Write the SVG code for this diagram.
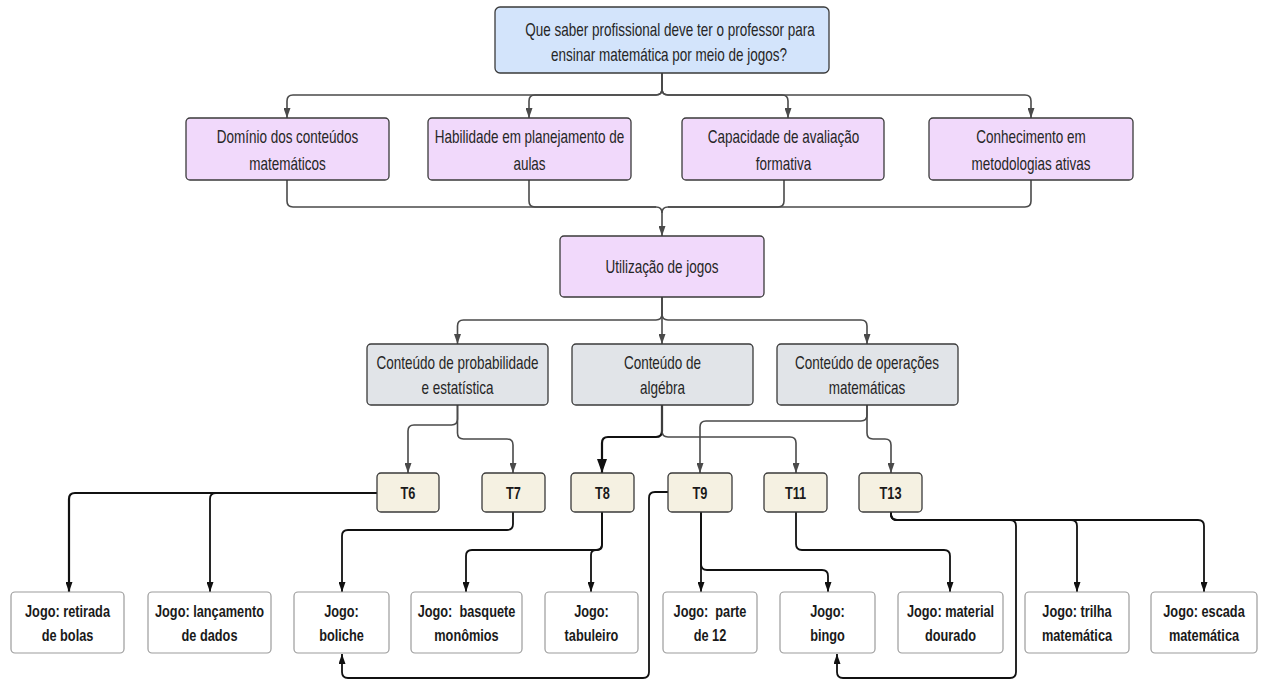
<svg xmlns="http://www.w3.org/2000/svg" width="1261" height="680" viewBox="0 0 1261 680">
<style>
.bx{stroke:#3a3a3a;stroke-width:1.3}
.q{fill:#d3e4fb}
.p{fill:#f1d9fb}
.g{fill:#e1e4e8}
.tb{fill:#f5f1e2}
.w{fill:#fff;stroke:#9c9c9c;stroke-width:1.2}
text{font-family:"Liberation Sans",Arial,sans-serif;text-anchor:middle;fill:#262626}
.n{font-size:18px}
.b{font-size:17px;font-weight:bold;fill:#1a1a1a}
.c{fill:none;stroke:#4a4a4a;stroke-width:1.6}
.k{fill:none;stroke:#111;stroke-width:1.8}
.kk{fill:none;stroke:#111;stroke-width:2.2}
</style>
<defs>
<marker id="ag" viewBox="0 0 10 10" refX="10" refY="5" markerWidth="10" markerHeight="7" orient="auto" markerUnits="userSpaceOnUse" preserveAspectRatio="none"><path d="M0,0 L10,5 L0,10 z" fill="#4a4a4a"/></marker>
<marker id="ak" viewBox="0 0 10 10" refX="10" refY="5" markerWidth="10" markerHeight="7" orient="auto" markerUnits="userSpaceOnUse" preserveAspectRatio="none"><path d="M0,0 L10,5 L0,10 z" fill="#111"/></marker>
<marker id="akb" viewBox="0 0 10 10" refX="10" refY="5" markerWidth="14" markerHeight="10" orient="auto" markerUnits="userSpaceOnUse" preserveAspectRatio="none"><path d="M0,0 L10,5 L0,10 z" fill="#111"/></marker>
</defs>

<g id="connectors">
<path class="c" marker-end="url(#ag)" d="M662,73 V89 Q662,95 656,95 H293 Q287,95 287,101 V118"/>
<path class="c" marker-end="url(#ag)" d="M662,73 V89 Q662,95 656,95 H535 Q529,95 529,101 V118"/>
<path class="c" marker-end="url(#ag)" d="M662,73 V89 Q662,95 668,95 H782 Q788,95 788,101 V118"/>
<path class="c" marker-end="url(#ag)" d="M662,73 V89 Q662,95 668,95 H1025 Q1031,95 1031,101 V118"/>
<path class="c" d="M287,180 V201 Q287,207 293,207 H656 Q662,207 662,213"/>
<path class="c" d="M529,180 V201 Q529,207 535,207 H656"/>
<path class="c" d="M784,180 V201 Q784,207 778,207 H668 Q662,207 662,213"/>
<path class="c" d="M1031,180 V201 Q1031,207 1025,207 H668"/>
<path class="c" marker-end="url(#ag)" d="M662,213 V236"/>
<path class="c" marker-end="url(#ag)" d="M662,297 V314 Q662,320 656,320 H463.5 Q457.5,320 457.5,326 V344"/>
<path class="c" marker-end="url(#ag)" d="M662,297 V344"/>
<path class="c" marker-end="url(#ag)" d="M662,297 V314 Q662,320 668,320 H861 Q867,320 867,326 V344"/>
<path class="c" marker-end="url(#ag)" d="M457.5,405 V419 Q457.5,425 451.5,425 H414 Q408,425 408,431 V473"/>
<path class="c" marker-end="url(#ag)" d="M457.5,405 V433 Q457.5,439 463.5,439 H507 Q513,439 513,445 V473"/>
<path class="kk" marker-end="url(#akb)" d="M662,405 V431 Q662,437 656,437 H608 Q602,437 602,443 V473"/>
<path class="c" marker-end="url(#ag)" d="M662,405 V431 Q662,437 668,437 H790 Q796,437 796,443 V473"/>
<path class="c" marker-end="url(#ag)" d="M867,405 V415 Q867,421 861,421 H706 Q700,421 700,427 V473"/>
<path class="c" marker-end="url(#ag)" d="M867,405 V433 Q867,439 873,439 H885 Q891,439 891,445 V473"/>
<path class="kk" marker-end="url(#ak)" d="M377,493 H75 Q69,493 69,499 V592"/>
<path class="k" marker-end="url(#ak)" d="M377,493 H216 Q210,493 210,499 V592"/>
<path class="k" marker-end="url(#ak)" d="M513,512 V524 Q513,530 507,530 H348 Q342,530 342,536 V592"/>
<path class="k" marker-end="url(#ak)" d="M602,512 V544 Q602,550 596,550 H472 Q466,550 466,556 V592"/>
<path class="k" marker-end="url(#ak)" d="M602,512 V545 Q602,550 597,550 H596 Q591,550 591,555 V592"/>
<path class="k" marker-end="url(#ak)" d="M701,512 V592"/>
<path class="k" marker-end="url(#ak)" d="M701,512 V564 Q701,570 707,570 H822 Q828,570 828,576 V592"/>
<path class="k" marker-end="url(#ak)" d="M668,492 H655 Q649,492 649,498 V672 Q649,678 643,678 H348 Q342,678 342,672 V654"/>
<path class="k" marker-end="url(#ak)" d="M796,512 V544 Q796,550 802,550 H944 Q950,550 950,556 V592"/>
<path class="k" marker-end="url(#ak)" d="M891,512 V514 Q891,520 897,520 H1010 Q1016,520 1016,526 V672 Q1016,678 1010,678 H843 Q837,678 837,672 V654"/>
<path class="k" marker-end="url(#ak)" d="M891,512 V514 Q891,520 897,520 H1071 Q1077,520 1077,526 V592"/>
<path class="k" marker-end="url(#ak)" d="M891,512 V514 Q891,520 897,520 H1198 Q1204,520 1204,526 V592"/>
</g>

<g id="n-top"><rect class="bx q" x="495" y="7" width="334" height="66" rx="5"/>
<text class="n" transform="translate(670 0) scale(.75 1)" y="36">Que saber profissional deve ter o professor para</text>
<text class="n" transform="translate(669 0) scale(.75 1)" y="61.5">ensinar matemática por meio de jogos?</text></g>

<g id="n-dominio"><rect class="bx p" x="186" y="118" width="203" height="62" rx="4"/>
<text class="n" transform="translate(287.5 0) scale(.75 1)" y="143.5">Domínio dos conteúdos</text>
<text class="n" transform="translate(287.5 0) scale(.75 1)" y="170.5">matemáticos</text></g>

<g id="n-habilidade"><rect class="bx p" x="428" y="118" width="203" height="62" rx="4"/>
<text class="n" transform="translate(529.5 0) scale(.75 1)" y="143.5">Habilidade em planejamento de</text>
<text class="n" transform="translate(529.5 0) scale(.75 1)" y="170.5">aulas</text></g>

<g id="n-capacidade"><rect class="bx p" x="682" y="118" width="202" height="62" rx="4"/>
<text class="n" transform="translate(783.5 0) scale(.75 1)" y="143.5">Capacidade de avaliação</text>
<text class="n" transform="translate(783.5 0) scale(.75 1)" y="170.5">formativa</text></g>

<g id="n-conhecimento"><rect class="bx p" x="929" y="118" width="204" height="62" rx="4"/>
<text class="n" transform="translate(1031 0) scale(.75 1)" y="143.5">Conhecimento em</text>
<text class="n" transform="translate(1031 0) scale(.75 1)" y="170.5">metodologias ativas</text></g>

<g id="n-utilizacao"><rect class="bx p" x="560" y="236" width="204" height="61" rx="4"/>
<text class="n" transform="translate(662 0) scale(.75 1)" y="273">Utilização de jogos</text></g>

<g id="n-prob"><rect class="bx g" x="367" y="344" width="181" height="61" rx="4"/>
<text class="n" transform="translate(457.5 0) scale(.75 1)" y="369">Conteúdo de probabilidade</text>
<text class="n" transform="translate(457.5 0) scale(.75 1)" y="394">e estatística</text></g>

<g id="n-algebra"><rect class="bx g" x="572" y="344" width="181" height="61" rx="4"/>
<text class="n" transform="translate(662.5 0) scale(.75 1)" y="369">Conteúdo de</text>
<text class="n" transform="translate(662.5 0) scale(.75 1)" y="394">algébra</text></g>

<g id="n-operacoes"><rect class="bx g" x="777" y="344" width="181" height="61" rx="4"/>
<text class="n" transform="translate(867 0) scale(.75 1)" y="369">Conteúdo de operações</text>
<text class="n" transform="translate(867 0) scale(.75 1)" y="394">matemáticas</text></g>

<g id="n-t6"><rect class="bx tb" x="377" y="473" width="62" height="39" rx="4"/><text class="b" transform="translate(408 0) scale(.75 1)" y="499">T6</text></g>
<g id="n-t7"><rect class="bx tb" x="482" y="473" width="63" height="39" rx="4"/><text class="b" transform="translate(513.5 0) scale(.75 1)" y="499">T7</text></g>
<g id="n-t8"><rect class="bx tb" x="571" y="473" width="63" height="39" rx="4"/><text class="b" transform="translate(602.5 0) scale(.75 1)" y="499">T8</text></g>
<g id="n-t9"><rect class="bx tb" x="668" y="473" width="64" height="39" rx="4"/><text class="b" transform="translate(700 0) scale(.75 1)" y="499">T9</text></g>
<g id="n-t11"><rect class="bx tb" x="764" y="473" width="63" height="39" rx="4"/><text class="b" transform="translate(795.5 0) scale(.75 1)" y="499">T11</text></g>
<g id="n-t13"><rect class="bx tb" x="859" y="473" width="63" height="39" rx="4"/><text class="b" transform="translate(890.5 0) scale(.75 1)" y="499">T13</text></g>

<g id="j-retirada"><rect class="w" x="11" y="592" width="113" height="61" rx="4"/>
<text class="b" transform="translate(67.5 0) scale(.75 1)" y="617.5">Jogo: retirada</text>
<text class="b" transform="translate(67.5 0) scale(.75 1)" y="641.5">de bolas</text></g>
<g id="j-lancamento"><rect class="w" x="148" y="592" width="123" height="61" rx="4"/>
<text class="b" transform="translate(209.5 0) scale(.75 1)" y="617.5">Jogo: lançamento</text>
<text class="b" transform="translate(209.5 0) scale(.75 1)" y="641.5">de dados</text></g>
<g id="j-boliche"><rect class="w" x="294" y="592" width="95" height="61" rx="4"/>
<text class="b" transform="translate(341.5 0) scale(.75 1)" y="617.5">Jogo:</text>
<text class="b" transform="translate(341.5 0) scale(.75 1)" y="641.5">boliche</text></g>
<g id="j-basquete"><rect class="w" x="411" y="592" width="111" height="61" rx="4"/>
<text class="b" transform="translate(466.5 0) scale(.75 1)" y="617.5">Jogo:&#160; basquete</text>
<text class="b" transform="translate(466.5 0) scale(.75 1)" y="641.5">monômios</text></g>
<g id="j-tabuleiro"><rect class="w" x="545" y="592" width="93" height="61" rx="4"/>
<text class="b" transform="translate(591.5 0) scale(.75 1)" y="617.5">Jogo:</text>
<text class="b" transform="translate(591.5 0) scale(.75 1)" y="641.5">tabuleiro</text></g>
<g id="j-parte"><rect class="w" x="663" y="592" width="94" height="61" rx="4"/>
<text class="b" transform="translate(710 0) scale(.75 1)" y="617.5">Jogo:&#160; parte</text>
<text class="b" transform="translate(710 0) scale(.75 1)" y="641.5">de 12</text></g>
<g id="j-bingo"><rect class="w" x="780" y="592" width="95" height="61" rx="4"/>
<text class="b" transform="translate(827.5 0) scale(.75 1)" y="617.5">Jogo:</text>
<text class="b" transform="translate(827.5 0) scale(.75 1)" y="641.5">bingo</text></g>
<g id="j-material"><rect class="w" x="898" y="592" width="105" height="61" rx="4"/>
<text class="b" transform="translate(950.5 0) scale(.75 1)" y="617.5">Jogo: material</text>
<text class="b" transform="translate(950.5 0) scale(.75 1)" y="641.5">dourado</text></g>
<g id="j-trilha"><rect class="w" x="1025" y="592" width="104" height="61" rx="4"/>
<text class="b" transform="translate(1077 0) scale(.75 1)" y="617.5">Jogo: trilha</text>
<text class="b" transform="translate(1077 0) scale(.75 1)" y="641.5">matemática</text></g>
<g id="j-escada"><rect class="w" x="1151" y="592" width="106" height="61" rx="4"/>
<text class="b" transform="translate(1204 0) scale(.75 1)" y="617.5">Jogo: escada</text>
<text class="b" transform="translate(1204 0) scale(.75 1)" y="641.5">matemática</text></g>
</svg>
